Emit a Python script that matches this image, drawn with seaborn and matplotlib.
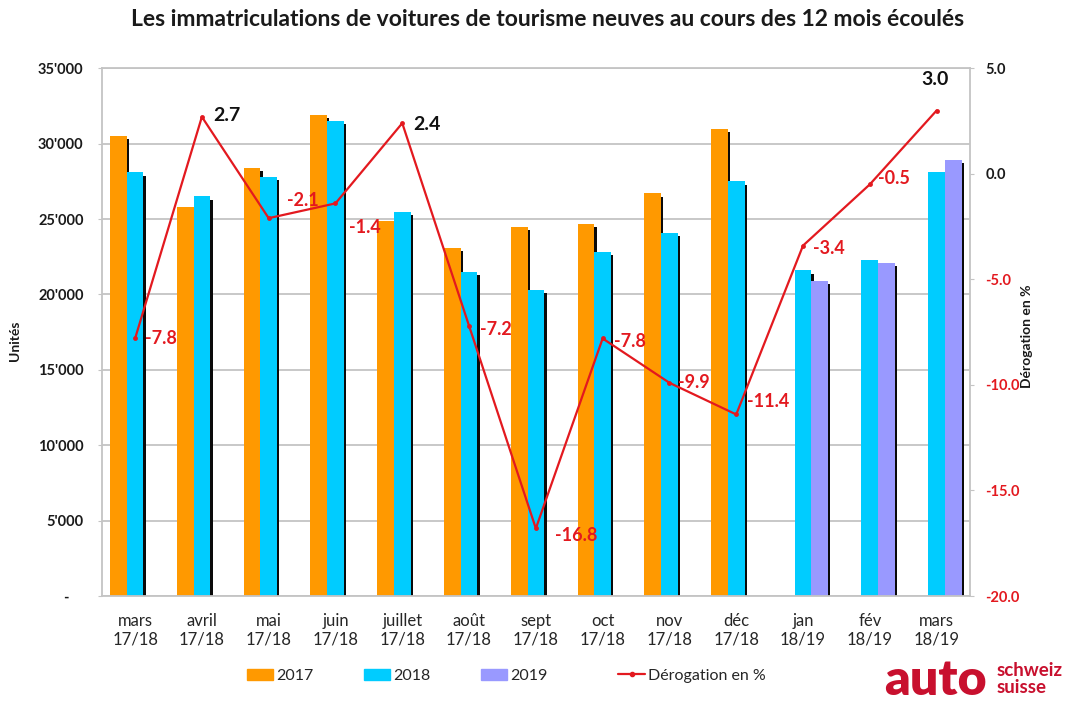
import numpy as np
import pandas as pd
import matplotlib
matplotlib.use("Agg")
import matplotlib.pyplot as plt
import matplotlib.patheffects as pe
from matplotlib.patches import Patch
from matplotlib.lines import Line2D
from matplotlib.ticker import FixedLocator, FuncFormatter
import seaborn as sns

# ---------------- data ----------------
months = ["mars\n17/18", "avril\n17/18", "mai\n17/18", "juin\n17/18", "juillet\n17/18",
          "août\n17/18", "sept\n17/18", "oct\n17/18", "nov\n17/18", "déc\n17/18",
          "jan\n18/19", "fév\n18/19", "mars\n18/19"]
years = ["2017", "2018", "2019"]
units_2017 = [30500, 25800, 28400, 31900, 24900, 23100, 24500, 24700, 26700, 31000,
              np.nan, np.nan, np.nan]
units_2018 = [28100, 26500, 27800, 31500, 25500, 21500, 20300, 22800, 24100, 27500,
              21600, 22300, 28100]
units_2019 = [np.nan] * 10 + [20900, 22100, 28900]
derogation = [-7.8, 2.7, -2.1, -1.4, 2.4, -7.2, -16.8, -7.8, -9.9, -11.4, -3.4, -0.5, 3.0]
left_ticks = [0, 5000, 10000, 15000, 20000, 25000, 30000, 35000]
right_ticks = [-20.0, -15.0, -10.0, -5.0, 0.0, 5.0]

title = "Les immatriculations de voitures de tourisme neuves au cours des 12 mois écoulés"
line_label = "Dérogation en %"

# ---------------- styles ----------------
c2017, c2018, c2019 = "#FF9900", "#00CCFF", "#9999FF"
red = "#E3191F"
grid_col = "#C4C4C4"
# label offsets (points) for the percentage annotations
label_offsets = [(7, 0), (8, 1), (13, 13), (10, -17), (8, -1), (8, -3), (14, -5),
                 (8, -2), (6, 0), (8, 9), (7, -2), (6, 4), (-1, 22)]
label_ha = ["left"] * 12 + ["center"]

sns.set_style("white")
plt.rcParams["font.family"] = ["Lato", "DejaVu Sans"]

rows = []
for m, a, b, c in zip(months, units_2017, units_2018, units_2019):
    for y, v in zip(years, (a, b, c)):
        if not np.isnan(v):
            rows.append({"mois": m, "annee": y, "unites": v})
df = pd.DataFrame(rows)

fig = plt.figure(figsize=(10.75, 7.02), dpi=100)
W, H = 1075, 702
ax = fig.add_axes([101.7 / W, (H - 596) / H, (970 - 101.7) / W, (596 - 68.3) / H])

sns.barplot(data=df, x="mois", y="unites", hue="annee", hue_order=years, order=months,
            palette=[c2017, c2018, c2019], width=0.75, saturation=1, errorbar=None,
            legend=False, ax=ax, linewidth=0)

for p in ax.patches:
    p.set_path_effects([pe.SimplePatchShadow(offset=(1.7, -2.3), shadow_rgbFace="#0a0a0a", alpha=1),
                        pe.Normal()])

ax.set_ylim(0, 35000)
ax.yaxis.set_major_locator(FixedLocator(left_ticks))
ax.yaxis.set_major_formatter(FuncFormatter(
    lambda v, p: "-    " if v == 0 else f"{int(v):,}".replace(",", "'")))
ax.set_axisbelow(True)
ax.grid(axis="y", color=grid_col, linewidth=1.3)
ax.grid(axis="x", visible=False)
for s in ["left", "bottom", "top"]:
    ax.spines[s].set_visible(True)
    ax.spines[s].set_color(grid_col)
    ax.spines[s].set_linewidth(1.3)
ax.spines["right"].set_visible(False)
ax.tick_params(axis="y", which="major", length=3, color=grid_col, pad=10,
               labelsize=10.5, labelcolor="#1a1a1a")
for t in ax.get_yticklabels():
    t.set_fontweight("bold")
ax.set_xticks(range(len(months)))
ax.set_xticklabels(months, fontsize=12, color="#262626", linespacing=1.2)
ax.xaxis.set_minor_locator(FixedLocator(np.arange(-0.5, len(months), 1.0)))
ax.tick_params(axis="x", which="major", length=0, pad=12)
ax.tick_params(axis="x", which="minor", length=4, color=grid_col, width=1)
ax.set_xlabel("")
ax.set_ylabel("")

ax2 = ax.twinx()
sns.lineplot(x=list(range(len(months))), y=derogation, ax=ax2, color=red, linewidth=1.6,
             marker="o", markersize=3.5, markeredgewidth=0, legend=False)
ax.set_xlim(-0.5, len(months) - 0.5)
ax2.set_xlim(-0.5, len(months) - 0.5)
ax2.set_ylim(-20, 5)
ax2.yaxis.set_major_locator(FixedLocator(right_ticks))
ax2.yaxis.set_major_formatter(FuncFormatter(lambda v, p: f"{v:.1f}"))
for s in ["left", "bottom", "top"]:
    ax2.spines[s].set_visible(False)
ax2.spines["right"].set_visible(True)
ax2.spines["right"].set_color(grid_col)
ax2.spines["right"].set_linewidth(1.3)
ax2.tick_params(axis="y", length=3, color=grid_col, pad=8, labelsize=10.5)
ax2.grid(False)
ax2.set_ylabel("")
fig.canvas.draw()
for t, v in zip(ax2.get_yticklabels(), right_ticks):
    t.set_fontweight("bold")
    t.set_color(red if v < 0 else "#1a1a1a")

for i, (v, off, ha) in enumerate(zip(derogation, label_offsets, label_ha)):
    ax2.annotate(f"{v:.1f}", xy=(i, v), xytext=off, textcoords="offset points",
                 ha=ha, va="center", fontsize=13 if v < 0 else 14, fontweight="bold",
                 color=red if v < 0 else "#111111")

fig.text(547.5 / W, 1 - 20 / H, title, ha="center", va="center", fontsize=16.5,
         fontweight="bold", color="#1a1a1a")
fig.text(15 / W, 1 - 341 / H, "Unités", rotation=90, ha="center", va="center",
         fontsize=10, fontweight="bold", color="#1a1a1a")
fig.text(1027 / W, 1 - 336 / H, line_label, rotation=90, ha="center", va="center",
         fontsize=10, fontweight="bold", color="#1a1a1a")

leg_y = 1 - 676 / H
patch_handles = [Patch(color=c2017), Patch(color=c2018), Patch(color=c2019)]
fig.legend(patch_handles, years, loc="center left", bbox_to_anchor=(247 / W, leg_y),
           ncol=3, frameon=False, fontsize=11.5, handlelength=1.6, handleheight=0.7,
           handletextpad=0.2, columnspacing=3.2, labelcolor="#262626",
           borderpad=0, borderaxespad=0)
fig.legend([Line2D([0], [0], color=red, linewidth=1.6, marker="o", markersize=3)],
           [line_label], loc="center left", bbox_to_anchor=(618 / W, leg_y),
           frameon=False, fontsize=11.5, handlelength=1.7, handletextpad=0.2,
           labelcolor="#262626", borderpad=0, borderaxespad=0)

logo = "#C8102E"
fig.text(884 / W, 1 - 695 / H, "auto", ha="left", va="baseline", fontsize=36,
         fontweight="heavy", color=logo)
fig.text(997 / W, 1 - 676 / H, "schweiz", ha="left", va="baseline", fontsize=13.5,
         fontweight="bold", color=logo)
fig.text(997 / W, 1 - 693 / H, "suisse", ha="left", va="baseline", fontsize=13.5,
         fontweight="bold", color=logo)

fig.savefig("out.png", dpi=100)
